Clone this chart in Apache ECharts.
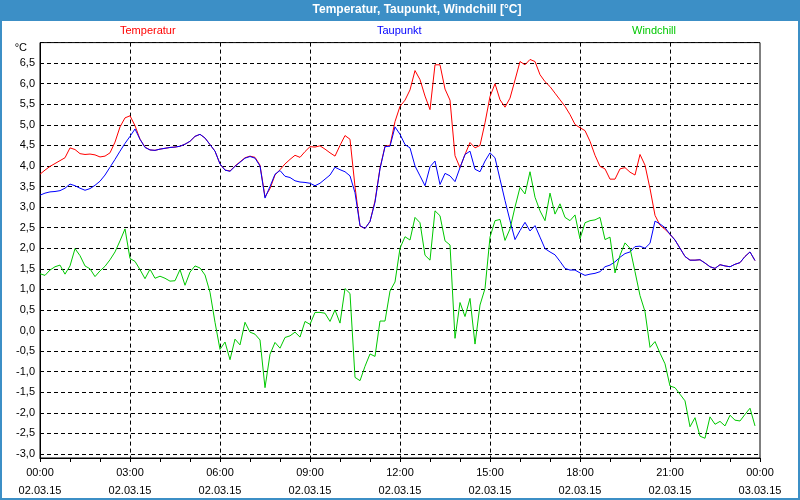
<!DOCTYPE html>
<html><head><meta charset="utf-8">
<script src="https://cdn.jsdelivr.net/npm/echarts@6/dist/echarts.min.js"></script>
<style>html,body{margin:0;padding:0;background:#fff}#c{width:800px;height:500px}</style>
</head><body><div id="c"></div>
<script>
// Time labels, one every 10 minutes, 02.03.15 00:00 .. 03.03.15 00:00
var timeLabels = [];
for (var i = 0; i <= 144; i++) {
  var h = Math.floor(i / 6), m = (i % 6) * 10;
  timeLabels.push((h % 24 < 10 ? '0' : '') + (h % 24) + ':' + (m < 10 ? '0' : '') + m);
}
var dateLabels = ['02.03.15', '03.03.15'];
var seriesNames = ['Temperatur', 'Taupunkt', 'Windchill'];

var temperatur = [
 3.80,3.90,3.99,4.06,4.13,4.20,4.44,4.40,4.30,4.28,4.29,4.27,4.22,4.24,4.32,4.58,4.95,5.17,5.22,4.98,4.65,4.46,4.39,4.38,4.41,4.43,4.45,4.46,4.48,4.53,4.60,4.72,4.77,4.68,4.52,4.36,
 4.05,3.90,3.88,4.00,4.10,4.20,4.24,4.21,4.02,3.25,3.45,3.78,3.91,4.05,4.16,4.26,4.21,4.35,4.47,4.46,4.49,4.41,4.32,4.24,4.50,4.74,4.65,3.50,2.54,2.48,2.65,3.15,3.95,4.48,4.50,5.08,
 5.45,5.60,5.85,6.32,6.10,5.70,5.37,6.46,6.46,5.87,5.60,4.25,3.96,4.28,4.57,4.44,4.50,5.05,5.69,6.00,5.61,5.43,5.65,6.09,6.54,6.46,6.59,6.54,6.22,6.05,5.93,5.77,5.61,5.45,5.25,5.01,
 4.93,4.86,4.60,4.26,3.99,3.93,3.68,3.68,3.93,3.96,3.85,3.78,4.28,4.02,3.45,2.80,2.56,2.46,2.34,2.20,2.00,1.80,1.71,1.71,1.72,1.64,1.55,1.51,1.60,1.57,1.55,1.61,1.65,1.80,1.91,1.70
];
var taupunkt = [
 3.29,3.34,3.37,3.38,3.40,3.46,3.56,3.52,3.46,3.41,3.45,3.53,3.63,3.78,3.97,4.16,4.36,4.55,4.72,4.90,4.65,4.45,4.39,4.38,4.41,4.43,4.45,4.46,4.48,4.53,4.60,4.72,4.77,4.68,4.52,4.36,
 4.05,3.90,3.87,3.99,4.09,4.19,4.23,4.19,4.00,3.22,3.50,3.80,3.89,3.75,3.72,3.64,3.61,3.60,3.58,3.52,3.58,3.68,3.78,3.97,3.91,3.86,3.76,3.35,2.55,2.48,2.65,3.12,3.93,4.47,4.48,4.95,
 4.77,4.52,4.44,4.00,3.76,3.52,3.98,4.12,3.55,3.82,3.76,3.62,3.96,4.28,4.36,3.92,3.86,4.12,4.32,4.20,3.68,3.16,2.67,2.21,2.43,2.63,2.42,2.55,2.27,1.99,1.91,1.84,1.68,1.51,1.47,1.47,
 1.40,1.34,1.37,1.39,1.43,1.55,1.59,1.67,1.78,1.87,1.91,2.04,2.05,2.00,2.12,2.66,2.59,2.50,2.34,2.20,2.00,1.80,1.71,1.71,1.72,1.64,1.55,1.51,1.60,1.57,1.55,1.61,1.65,1.80,1.91,1.70
];
var windchill = [
 1.38,1.34,1.47,1.55,1.59,1.37,1.57,1.99,1.82,1.57,1.50,1.31,1.45,1.56,1.72,1.91,2.18,2.47,1.75,1.68,1.48,1.26,1.49,1.27,1.32,1.27,1.20,1.21,1.48,1.10,1.42,1.57,1.52,1.35,0.93,0.20,
 -0.46,-0.28,-0.71,-0.21,-0.35,0.20,-0.04,-0.09,-0.23,-1.39,-0.58,-0.29,-0.43,-0.17,-0.13,-0.04,-0.16,0.22,0.15,0.44,0.44,0.42,0.22,0.50,0.18,1.02,0.90,-1.14,-1.22,-0.87,-0.57,-0.63,0.23,0.23,0.96,1.18,
 2.00,2.28,2.20,2.75,2.62,1.83,1.71,2.91,2.79,2.18,2.08,-0.19,0.68,0.34,0.78,-0.33,0.62,1.02,2.27,2.67,2.70,2.19,2.47,3.00,3.48,3.32,3.86,3.24,2.91,2.67,3.34,2.83,3.08,2.75,2.67,2.81,
 2.23,2.62,2.67,2.69,2.75,2.21,2.27,1.40,1.83,2.13,2.00,1.43,0.85,0.46,-0.41,-0.27,-0.55,-0.81,-1.35,-1.39,-1.55,-1.71,-2.34,-2.12,-2.57,-2.62,-2.10,-2.28,-2.21,-2.32,-2.06,-2.18,-2.20,-2.04,-1.89,-2.32
];
var colors = ['#ff0000', '#0000ff', '#00c800'];
var FONT = 'Liberation Sans';

var chart = echarts.init(document.getElementById('c'), null, {renderer: 'canvas'});
function legendFor(i, left) {
  return {
    left: left, top: 25, icon: 'none', itemWidth: 0, itemHeight: 0, itemGap: 0,
    selectedMode: false, padding: 0,
    textStyle: {fontFamily: FONT, fontSize: 11, color: colors[i], padding: 0},
    data: [{name: seriesNames[i], textStyle: {color: colors[i]}}]
  };
}
chart.setOption({
  animation: false,
  backgroundColor: '#3c8fc6',
  graphic: [{type: 'rect', shape: {x: 2, y: 21, width: 796, height: 477}, style: {fill: '#ffffff'}, silent: true, z: -10}],
  title: {
    text: 'Temperatur, Taupunkt, Windchill [°C]', left: 417, top: 4, textAlign: 'center', padding: 0,
    textStyle: {color: '#ffffff', fontFamily: FONT, fontWeight: 'bold', fontSize: 12}
  },
  legend: [legendFor(0, 115), legendFor(1, 372), legendFor(2, 627)],
  grid: {left: 40, right: 40, top: 42.6, bottom: 39.2, show: true, borderColor: '#000', borderWidth: 1, backgroundColor: 'transparent'},
  xAxis: {
    type: 'category', boundaryGap: false, data: timeLabels,
    axisLine: {onZero: false, lineStyle: {color: '#000', width: 1}},
    axisTick: {show: true, length: 4, interval: function (idx) { return idx % 6 === 0; }, lineStyle: {color: '#000'}},
    axisLabel: {
      interval: function (idx) { return idx % 18 === 0; }, margin: 6, color: '#000', fontFamily: FONT, fontSize: 11, lineHeight: 18,
      formatter: function (v, idx) { return v + '\n' + (idx === 144 ? dateLabels[1] : dateLabels[0]); }
    },
    splitLine: {show: true, interval: function (idx) { return idx % 18 === 0 && idx > 0 && idx < 144; }, lineStyle: {color: '#000', type: [4, 3], width: 1}}
  },
  yAxis: {
    type: 'value', min: -3.1, max: 7, splitNumber: 20,
    name: '°C', nameLocation: 'end', nameGap: 0,
    nameTextStyle: {align: 'right', verticalAlign: 'top', padding: [0, 13, 0, 0], color: '#000', fontFamily: FONT, fontSize: 11},
    axisLine: {show: true, lineStyle: {color: '#000', width: 1}},
    axisTick: {show: false},
    axisLabel: {
      margin: 5, color: '#000', fontFamily: FONT, fontSize: 11,
      formatter: function (v) { var r = Math.round(v * 10) / 10; if (r < -3.05 || r > 6.95) return ''; return r.toFixed(1).replace('.', ','); }
    },
    splitLine: {show: true, lineStyle: {color: '#000', type: [4, 3], width: 1}}
  },
  series: [
    {name: seriesNames[0], type: 'line', data: temperatur, showSymbol: false, symbol: 'none', lineStyle: {color: colors[0], width: 1}, itemStyle: {color: colors[0]}},
    {name: seriesNames[1], type: 'line', data: taupunkt, showSymbol: false, symbol: 'none', lineStyle: {color: colors[1], width: 1}, itemStyle: {color: colors[1]}},
    {name: seriesNames[2], type: 'line', data: windchill, showSymbol: false, symbol: 'none', lineStyle: {color: colors[2], width: 1}, itemStyle: {color: colors[2]}}
  ]
});
</script></body></html>
